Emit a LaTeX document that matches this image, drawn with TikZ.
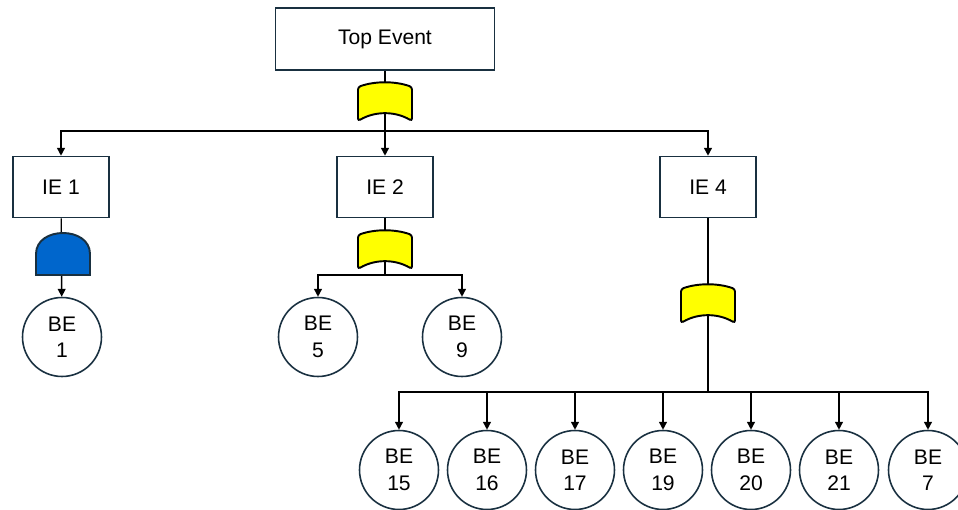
\documentclass[tikz,border=0pt]{standalone}
\usepackage{fontspec}
\setmainfont{Liberation Sans}
\usetikzlibrary{arrows.meta}
\definecolor{gateyellow}{RGB}{255,255,0}
\definecolor{gateblue}{RGB}{0,102,204}
\definecolor{edgenavy}{RGB}{25,48,64}

\tikzset{
  eventbox/.style={rectangle, draw=edgenavy, line width=0.9pt, fill=white,
    minimum width=1.92cm, minimum height=1.22cm, font=\fontsize{12}{14}\selectfont},
  basic/.style={circle, draw=edgenavy, line width=0.9pt, fill=white,
    minimum size=1.58cm, inner sep=0pt, align=center, font=\fontsize{12}{15}\selectfont},
  wire/.style={draw=black, line width=0.8pt},
  link/.style={wire, -{Triangle[length=4.5pt,width=4.5pt]}},
  orgate/.pic={
    \draw[fill=gateyellow, line width=1.1pt, rounded corners=1.5pt]
      (-27,20) -- (-27,-14) .. controls (-10,-20) and (10,-20) .. (27,-14)
      -- (27,20) .. controls (10,10) and (-10,10) .. (-27,20) -- cycle;
  },
  andgate/.pic={
    \draw[fill=gateblue, draw=edgenavy, line width=1.1pt]
      (-27,21) -- (-27,0) .. controls (-27,-28) and (27,-28) .. (27,0)
      -- (27,21) -- cycle;
  }
}

\begin{document}
\begin{tikzpicture}[x=0.02cm, y=-0.02cm]
\useasboundingbox (0,0) rectangle (958,510);

% events
\node[eventbox, minimum width=4.38cm, minimum height=1.24cm] (top) at (385,39) {\raisebox{-1.5pt}{Top Event}};
\node[eventbox] (ie1) at (61,187) {IE 1};
\node[eventbox] (ie2) at (385,187) {IE 2};
\node[eventbox] (ie4) at (708,187) {IE 4};

% basic events
\node[basic] (be1) at (62,337) {BE\\1};
\node[basic] (be5) at (318,337) {BE\\5};
\node[basic] (be9) at (462,337) {BE\\9};
\foreach \n/\x in {15/399,16/487,17/575,19/663,20/751,21/839,7/928}
  \node[basic] (be\n) at (\x,470) {BE\\\n};

% buses
\coordinate (bus0) at (385,131);
\coordinate (bus1) at (385,275);
\coordinate (bus2) at (708,392);

\draw[wire] (top) -- (bus0);
\foreach \t in {ie1,ie2,ie4}
  \draw[link] (bus0) -| (\t);

\draw[link] (ie1) -- (be1);

\draw[wire] (ie2) -- (bus1);
\draw[link] (bus1) -| (be5);
\draw[link] (bus1) -| (be9);

\draw[wire, line width=1.6pt] (ie4) -- (bus2);
\foreach \n in {15,16,17,19,20,21,7}
  \draw[link] (bus2) -| (be\n);

% gates
\pic at (385,101) {orgate};
\pic at (63,254) {andgate};
\pic at (385,249) {orgate};
\pic at (708,303) {orgate};
\end{tikzpicture}
\end{document}
